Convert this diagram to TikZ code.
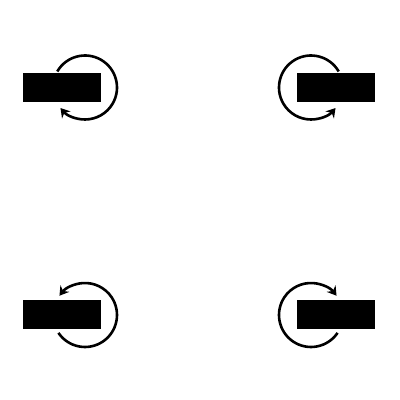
\documentclass[tikz,border=0pt]{standalone}
\usetikzlibrary{arrows.meta}
\begin{document}
\begin{tikzpicture}[x=1pt,y=1pt,
  blk/.style={fill=black,draw=none,minimum width=78pt,minimum height=29pt,inner sep=0pt,outer sep=0pt},
  turn/.style={line width=2.6pt,-{Stealth[length=9pt,width=11pt,inset=3pt]}}]
\useasboundingbox (0,0) rectangle (400,400);
\fill[white] (0,0) rectangle (400,400);
% centres
\coordinate (ctl) at (85,312.5);
\coordinate (ctr) at (311,312.5);
\coordinate (cbl) at (85,85);
\coordinate (cbr) at (311,85);
% blocks
\node[blk] (btl) at (62,312.5) {};
\node[blk] (btr) at (336,312.5) {};
\node[blk] (bbl) at (62,85.5) {};
\node[blk] (bbr) at (336,85.5) {};
% rotation arrows
\draw[turn] (ctl) ++(150:32) arc[start angle=150, end angle=-140, radius=32];
\draw[turn] (ctr) ++(30:32) arc[start angle=30, end angle=320, radius=32];
\draw[turn] (cbl) ++(-146:32) arc[start angle=-146, end angle=143, radius=32];
\draw[turn] (cbr) ++(-34:32) arc[start angle=-34, end angle=-323, radius=32];
\end{tikzpicture}
\end{document}
